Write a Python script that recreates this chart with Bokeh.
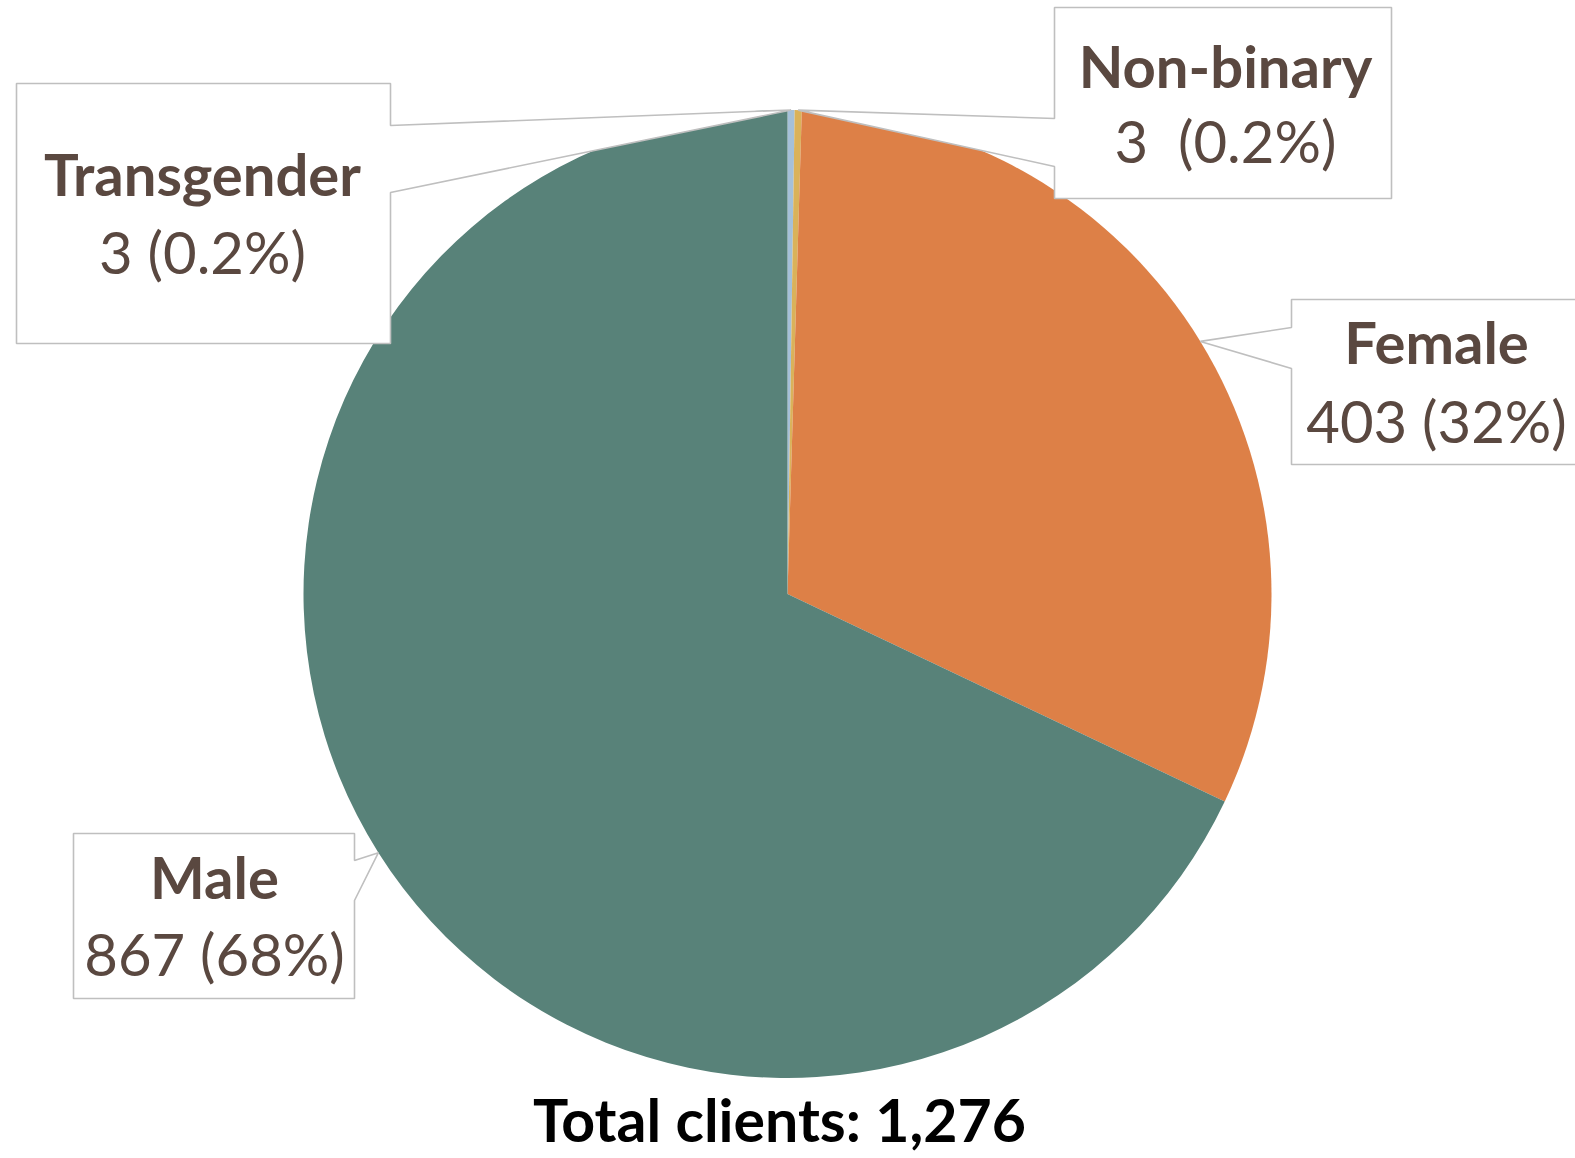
import math
from bokeh.plotting import figure
from bokeh.models import Range1d
from bokeh.core.properties import value
from bokeh.embed import file_html
from bokeh.resources import INLINE

# ---- data ----
categories = ["Transgender", "Non-binary", "Female", "Male"]
counts = [3, 3, 403, 867]
value_labels = ["3 (0.2%)", "3 \u00a0(0.2%)", "403 (32%)", "867 (68%)"]
colors = ["#A5C0D9", "#DAB25A", "#DD8047", "#588279"]
total_label = "Total clients: " + format(sum(counts), ",")

# ---- layout (reference pixel coordinates, y measured from top) ----
H = 1158
CX, CY, R = 787, 593.5, 484
FONT = "Lato"
TXT = "#5A4840"
BORDER = "#BFBFBF"
BASE_SHIFT = 22  # renderer places alphabetic baseline lower than requested

# box: left, top, right, bottom ; side of the pointer ; notch y1, y2 ; text x ; baselines
callouts = {
    "Transgender": dict(box=(16, 83, 390, 343), side="right", notch=(125, 192), tx=202, b1=195, b2=273),
    "Non-binary": dict(box=(1054, 7, 1391, 198), side="left", notch=(118, 166), tx=1225, b1=87, b2=162),
    "Female": dict(box=(1291, 299, 1582, 464), side="left", notch=(327, 368), tx=1436, b1=363, b2=442),
    "Male": dict(box=(73, 833, 354, 998), side="right", notch=(860, 900), tx=214, b1=898, b2=975),
}

def Y(yref):
    return H - yref

def YT(yref):
    return H - (yref - BASE_SHIFT)

W_FIG, H_FIG = 1575, 1156
p = figure(width=W_FIG, height=H_FIG, output_backend="svg", toolbar_location=None,
           x_range=Range1d(0, W_FIG), y_range=Range1d(H - H_FIG, H),
           min_border=0)
p.axis.visible = False
p.grid.visible = False
p.outline_line_color = None
p.background_fill_color = "white"
p.border_fill_color = "white"

total = sum(counts)
starts, ends, mids = [], [], []
cum = 0
for c in counts:
    t0 = cum / total * 2 * math.pi
    cum += c
    t1 = cum / total * 2 * math.pi
    starts.append(math.pi / 2 - t0)
    ends.append(math.pi / 2 - t1)
    mids.append((t0 + t1) / 2)

p.wedge(x=[CX] * len(counts), y=[Y(CY)] * len(counts), radius=R,
        start_angle=starts, end_angle=ends, direction="clock",
        fill_color=colors, line_color=None)

# callout shapes
xs, ys = [], []
for cat, th in zip(categories, mids):
    cfg = callouts[cat]
    l, t, r, b = cfg["box"]
    n1, n2 = cfg["notch"]
    tipx = CX + R * math.sin(th)
    tipy = CY - R * math.cos(th)
    if cfg["side"] == "right":
        pts = [(l, t), (r, t), (r, n1), (tipx, tipy), (r, n2), (r, b), (l, b)]
    else:
        pts = [(l, t), (r, t), (r, b), (l, b), (l, n2), (tipx, tipy), (l, n1)]
    xs.append([q[0] for q in pts])
    ys.append([Y(q[1]) for q in pts])
p.patches(xs, ys, fill_color="white", line_color=BORDER, line_width=1.6)

# labels
for cat, vl in zip(categories, value_labels):
    cfg = callouts[cat]
    p.text(x=[cfg["tx"]], y=[YT(cfg["b1"])], text=[cat], text_font=value(FONT),
           text_font_size="58px", text_font_style="bold", text_color=TXT,
           text_align="center", text_baseline="alphabetic")
    p.text(x=[cfg["tx"]], y=[YT(cfg["b2"])], text=[vl], text_font=value(FONT),
           text_font_size="58px", text_font_style="normal", text_color=TXT,
           text_align="center", text_baseline="alphabetic")

p.text(x=[779], y=[YT(1141)], text=[total_label], text_font=value(FONT),
       text_font_size="59px", text_font_style="bold", text_color="#000000",
       text_align="center", text_baseline="alphabetic")

open("out.html", "w").write(file_html(p, INLINE))
